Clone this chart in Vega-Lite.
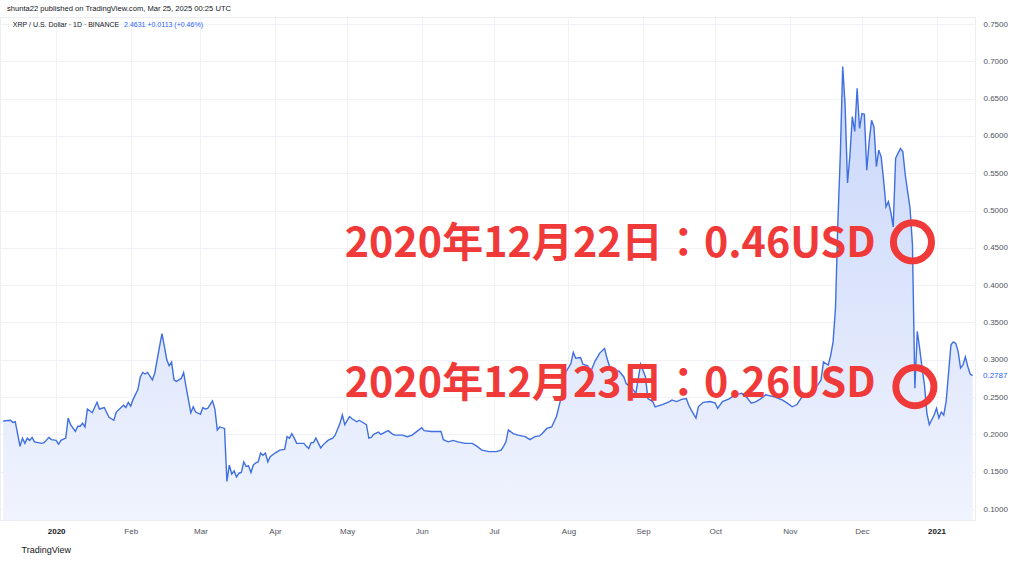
{
  "$schema": "https://vega.github.io/schema/vega-lite/v6.json",
  "autosize": "none",
  "width": 975,
  "height": 503,
  "padding": {"left": 0, "top": 17, "right": 49, "bottom": 41},
  "background": "white",
  "config": {
    "view": {"stroke": "#eceef3"},
    "font": "Liberation Sans"
  },
  "title": {
    "text": "shunta22 published on TradingView.com, Mar 25, 2025 00:25 UTC",
    "anchor": "start",
    "dx": 7,
    "offset": 4,
    "fontSize": 7.6,
    "fontWeight": "normal",
    "color": "#131722",
    "font": "Liberation Sans"
  },
  "datasets": {
    "series": [
      {"d": "2019-12-10", "v": 0.218}, {"d": "2019-12-13", "v": 0.219}, {"d": "2019-12-14", "v": 0.216}, {"d": "2019-12-15", "v": 0.217},
      {"d": "2019-12-17", "v": 0.184}, {"d": "2019-12-18", "v": 0.195}, {"d": "2019-12-19", "v": 0.188}, {"d": "2019-12-20", "v": 0.195},
      {"d": "2019-12-21", "v": 0.192}, {"d": "2019-12-22", "v": 0.196}, {"d": "2019-12-23", "v": 0.190}, {"d": "2019-12-26", "v": 0.188},
      {"d": "2019-12-27", "v": 0.189}, {"d": "2019-12-29", "v": 0.196}, {"d": "2019-12-30", "v": 0.193}, {"d": "2020-01-01", "v": 0.192},
      {"d": "2020-01-02", "v": 0.187}, {"d": "2020-01-03", "v": 0.192}, {"d": "2020-01-05", "v": 0.195}, {"d": "2020-01-06", "v": 0.222},
      {"d": "2020-01-07", "v": 0.213}, {"d": "2020-01-09", "v": 0.204}, {"d": "2020-01-10", "v": 0.211}, {"d": "2020-01-11", "v": 0.211},
      {"d": "2020-01-12", "v": 0.215}, {"d": "2020-01-13", "v": 0.210}, {"d": "2020-01-14", "v": 0.234}, {"d": "2020-01-16", "v": 0.229},
      {"d": "2020-01-18", "v": 0.243}, {"d": "2020-01-19", "v": 0.234}, {"d": "2020-01-21", "v": 0.236}, {"d": "2020-01-23", "v": 0.223},
      {"d": "2020-01-25", "v": 0.219}, {"d": "2020-01-26", "v": 0.230}, {"d": "2020-01-28", "v": 0.236}, {"d": "2020-01-29", "v": 0.239},
      {"d": "2020-01-30", "v": 0.236}, {"d": "2020-01-31", "v": 0.243}, {"d": "2020-02-01", "v": 0.238}, {"d": "2020-02-02", "v": 0.247},
      {"d": "2020-02-04", "v": 0.260}, {"d": "2020-02-05", "v": 0.277}, {"d": "2020-02-06", "v": 0.283}, {"d": "2020-02-07", "v": 0.281},
      {"d": "2020-02-08", "v": 0.283}, {"d": "2020-02-10", "v": 0.273}, {"d": "2020-02-11", "v": 0.282}, {"d": "2020-02-13", "v": 0.318},
      {"d": "2020-02-14", "v": 0.335}, {"d": "2020-02-15", "v": 0.318}, {"d": "2020-02-16", "v": 0.300}, {"d": "2020-02-17", "v": 0.292},
      {"d": "2020-02-18", "v": 0.297}, {"d": "2020-02-19", "v": 0.273}, {"d": "2020-02-20", "v": 0.271}, {"d": "2020-02-22", "v": 0.275},
      {"d": "2020-02-23", "v": 0.283}, {"d": "2020-02-24", "v": 0.264}, {"d": "2020-02-26", "v": 0.229}, {"d": "2020-02-27", "v": 0.237},
      {"d": "2020-02-28", "v": 0.230}, {"d": "2020-03-01", "v": 0.227}, {"d": "2020-03-02", "v": 0.236}, {"d": "2020-03-03", "v": 0.234},
      {"d": "2020-03-04", "v": 0.235}, {"d": "2020-03-06", "v": 0.245}, {"d": "2020-03-07", "v": 0.234}, {"d": "2020-03-08", "v": 0.206},
      {"d": "2020-03-09", "v": 0.210}, {"d": "2020-03-11", "v": 0.208}, {"d": "2020-03-12", "v": 0.137}, {"d": "2020-03-13", "v": 0.159},
      {"d": "2020-03-14", "v": 0.147}, {"d": "2020-03-15", "v": 0.151}, {"d": "2020-03-16", "v": 0.143}, {"d": "2020-03-17", "v": 0.148},
      {"d": "2020-03-18", "v": 0.149}, {"d": "2020-03-19", "v": 0.163}, {"d": "2020-03-20", "v": 0.157}, {"d": "2020-03-21", "v": 0.158},
      {"d": "2020-03-22", "v": 0.149}, {"d": "2020-03-23", "v": 0.159}, {"d": "2020-03-24", "v": 0.162}, {"d": "2020-03-25", "v": 0.163},
      {"d": "2020-03-26", "v": 0.175}, {"d": "2020-03-27", "v": 0.172}, {"d": "2020-03-28", "v": 0.175}, {"d": "2020-03-29", "v": 0.163},
      {"d": "2020-03-30", "v": 0.170}, {"d": "2020-04-01", "v": 0.175}, {"d": "2020-04-03", "v": 0.179}, {"d": "2020-04-05", "v": 0.180},
      {"d": "2020-04-06", "v": 0.197}, {"d": "2020-04-07", "v": 0.195}, {"d": "2020-04-08", "v": 0.201}, {"d": "2020-04-09", "v": 0.195},
      {"d": "2020-04-10", "v": 0.188}, {"d": "2020-04-13", "v": 0.188}, {"d": "2020-04-14", "v": 0.184}, {"d": "2020-04-15", "v": 0.181},
      {"d": "2020-04-16", "v": 0.189}, {"d": "2020-04-17", "v": 0.189}, {"d": "2020-04-18", "v": 0.195}, {"d": "2020-04-20", "v": 0.182},
      {"d": "2020-04-21", "v": 0.186}, {"d": "2020-04-23", "v": 0.192}, {"d": "2020-04-25", "v": 0.195}, {"d": "2020-04-26", "v": 0.199},
      {"d": "2020-04-28", "v": 0.215}, {"d": "2020-04-29", "v": 0.226}, {"d": "2020-04-30", "v": 0.213}, {"d": "2020-05-02", "v": 0.224},
      {"d": "2020-05-03", "v": 0.221}, {"d": "2020-05-05", "v": 0.217}, {"d": "2020-05-06", "v": 0.219}, {"d": "2020-05-07", "v": 0.217},
      {"d": "2020-05-09", "v": 0.213}, {"d": "2020-05-10", "v": 0.195}, {"d": "2020-05-11", "v": 0.196}, {"d": "2020-05-12", "v": 0.200},
      {"d": "2020-05-14", "v": 0.203}, {"d": "2020-05-15", "v": 0.200}, {"d": "2020-05-18", "v": 0.205}, {"d": "2020-05-20", "v": 0.200},
      {"d": "2020-05-21", "v": 0.199}, {"d": "2020-05-24", "v": 0.199}, {"d": "2020-05-26", "v": 0.197}, {"d": "2020-05-28", "v": 0.199},
      {"d": "2020-05-30", "v": 0.204}, {"d": "2020-06-01", "v": 0.209}, {"d": "2020-06-02", "v": 0.205}, {"d": "2020-06-05", "v": 0.204},
      {"d": "2020-06-09", "v": 0.204}, {"d": "2020-06-10", "v": 0.193}, {"d": "2020-06-12", "v": 0.190}, {"d": "2020-06-14", "v": 0.192},
      {"d": "2020-06-16", "v": 0.190}, {"d": "2020-06-19", "v": 0.188}, {"d": "2020-06-22", "v": 0.188}, {"d": "2020-06-24", "v": 0.184},
      {"d": "2020-06-26", "v": 0.179}, {"d": "2020-06-29", "v": 0.177}, {"d": "2020-07-02", "v": 0.177}, {"d": "2020-07-04", "v": 0.179},
      {"d": "2020-07-05", "v": 0.184}, {"d": "2020-07-06", "v": 0.190}, {"d": "2020-07-07", "v": 0.206}, {"d": "2020-07-09", "v": 0.201},
      {"d": "2020-07-11", "v": 0.199}, {"d": "2020-07-14", "v": 0.197}, {"d": "2020-07-16", "v": 0.193}, {"d": "2020-07-18", "v": 0.197},
      {"d": "2020-07-20", "v": 0.198}, {"d": "2020-07-21", "v": 0.201}, {"d": "2020-07-23", "v": 0.208}, {"d": "2020-07-25", "v": 0.210},
      {"d": "2020-07-27", "v": 0.224}, {"d": "2020-07-28", "v": 0.237}, {"d": "2020-07-29", "v": 0.250}, {"d": "2020-07-31", "v": 0.284},
      {"d": "2020-08-02", "v": 0.295}, {"d": "2020-08-03", "v": 0.310}, {"d": "2020-08-04", "v": 0.302}, {"d": "2020-08-06", "v": 0.303},
      {"d": "2020-08-07", "v": 0.294}, {"d": "2020-08-09", "v": 0.292}, {"d": "2020-08-10", "v": 0.282}, {"d": "2020-08-12", "v": 0.298},
      {"d": "2020-08-14", "v": 0.309}, {"d": "2020-08-16", "v": 0.315}, {"d": "2020-08-17", "v": 0.302}, {"d": "2020-08-18", "v": 0.292},
      {"d": "2020-08-20", "v": 0.285}, {"d": "2020-08-22", "v": 0.285}, {"d": "2020-08-24", "v": 0.277}, {"d": "2020-08-25", "v": 0.268},
      {"d": "2020-08-27", "v": 0.264}, {"d": "2020-08-29", "v": 0.255}, {"d": "2020-08-31", "v": 0.294}, {"d": "2020-09-02", "v": 0.277},
      {"d": "2020-09-03", "v": 0.248}, {"d": "2020-09-05", "v": 0.244}, {"d": "2020-09-06", "v": 0.237}, {"d": "2020-09-09", "v": 0.240},
      {"d": "2020-09-12", "v": 0.244}, {"d": "2020-09-13", "v": 0.246}, {"d": "2020-09-15", "v": 0.244}, {"d": "2020-09-17", "v": 0.247},
      {"d": "2020-09-19", "v": 0.248}, {"d": "2020-09-20", "v": 0.239}, {"d": "2020-09-21", "v": 0.233}, {"d": "2020-09-23", "v": 0.222},
      {"d": "2020-09-24", "v": 0.237}, {"d": "2020-09-26", "v": 0.243}, {"d": "2020-09-29", "v": 0.244}, {"d": "2020-10-01", "v": 0.242},
      {"d": "2020-10-02", "v": 0.235}, {"d": "2020-10-04", "v": 0.244}, {"d": "2020-10-07", "v": 0.248}, {"d": "2020-10-09", "v": 0.253},
      {"d": "2020-10-12", "v": 0.255}, {"d": "2020-10-14", "v": 0.250}, {"d": "2020-10-16", "v": 0.242}, {"d": "2020-10-18", "v": 0.244},
      {"d": "2020-10-20", "v": 0.248}, {"d": "2020-10-22", "v": 0.253}, {"d": "2020-10-26", "v": 0.250}, {"d": "2020-10-29", "v": 0.246},
      {"d": "2020-10-31", "v": 0.242}, {"d": "2020-11-02", "v": 0.237}, {"d": "2020-11-04", "v": 0.240}, {"d": "2020-11-06", "v": 0.250},
      {"d": "2020-11-09", "v": 0.255}, {"d": "2020-11-11", "v": 0.259}, {"d": "2020-11-13", "v": 0.268}, {"d": "2020-11-14", "v": 0.273},
      {"d": "2020-11-15", "v": 0.297}, {"d": "2020-11-17", "v": 0.293}, {"d": "2020-11-18", "v": 0.306}, {"d": "2020-11-19", "v": 0.324},
      {"d": "2020-11-20", "v": 0.369}, {"d": "2020-11-21", "v": 0.485}, {"d": "2020-11-22", "v": 0.574}, {"d": "2020-11-23", "v": 0.693},
      {"d": "2020-11-24", "v": 0.641}, {"d": "2020-11-25", "v": 0.537}, {"d": "2020-11-26", "v": 0.574}, {"d": "2020-11-27", "v": 0.626},
      {"d": "2020-11-28", "v": 0.606}, {"d": "2020-11-29", "v": 0.664}, {"d": "2020-11-30", "v": 0.610}, {"d": "2020-12-01", "v": 0.630},
      {"d": "2020-12-02", "v": 0.629}, {"d": "2020-12-03", "v": 0.554}, {"d": "2020-12-04", "v": 0.592}, {"d": "2020-12-05", "v": 0.621},
      {"d": "2020-12-06", "v": 0.612}, {"d": "2020-12-07", "v": 0.559}, {"d": "2020-12-08", "v": 0.581}, {"d": "2020-12-09", "v": 0.572},
      {"d": "2020-12-10", "v": 0.541}, {"d": "2020-12-11", "v": 0.505}, {"d": "2020-12-12", "v": 0.512}, {"d": "2020-12-13", "v": 0.498},
      {"d": "2020-12-14", "v": 0.478}, {"d": "2020-12-15", "v": 0.570}, {"d": "2020-12-16", "v": 0.577}, {"d": "2020-12-17", "v": 0.583},
      {"d": "2020-12-18", "v": 0.579}, {"d": "2020-12-19", "v": 0.548}, {"d": "2020-12-21", "v": 0.503}, {"d": "2020-12-22", "v": 0.454},
      {"d": "2020-12-23", "v": 0.262}, {"d": "2020-12-24", "v": 0.338}, {"d": "2020-12-25", "v": 0.315}, {"d": "2020-12-26", "v": 0.289},
      {"d": "2020-12-27", "v": 0.266}, {"d": "2020-12-28", "v": 0.228}, {"d": "2020-12-29", "v": 0.213}, {"d": "2020-12-31", "v": 0.226},
      {"d": "2021-01-01", "v": 0.235}, {"d": "2021-01-02", "v": 0.222}, {"d": "2021-01-03", "v": 0.230}, {"d": "2021-01-04", "v": 0.226},
      {"d": "2021-01-05", "v": 0.244}, {"d": "2021-01-07", "v": 0.320}, {"d": "2021-01-08", "v": 0.324}, {"d": "2021-01-09", "v": 0.322},
      {"d": "2021-01-10", "v": 0.311}, {"d": "2021-01-11", "v": 0.289}, {"d": "2021-01-12", "v": 0.293}, {"d": "2021-01-13", "v": 0.304},
      {"d": "2021-01-14", "v": 0.291}, {"d": "2021-01-15", "v": 0.281}, {"d": "2021-01-16", "v": 0.2787}
    ],
    "notes": [
      {"d": "2020-04-30", "v": 0.454, "label": "2020年12月22日：0.46USD"},
      {"d": "2020-04-30", "v": 0.266, "label": "2020年12月23日：0.26USD"}
    ],
    "rings": [
      {"d": "2020-12-22", "v": 0.458},
      {"d": "2020-12-23", "v": 0.264}
    ],
    "symbolLine": [
      {"d": "2019-12-14", "v": 0.7487, "label": "XRP / U.S. Dollar · 1D · BINANCE"}
    ],
    "quote": [
      {"d": "2020-01-29T06:00:00Z", "v": 0.7487, "label": "2.4631  +0.0113 (+0.46%)"}
    ],
    "last": [
      {"d": "2021-01-17", "v": 0.2787, "label": "0.2787"}
    ]
  },
  "layer": [
    {
      "data": {"name": "series"},
      "mark": {
        "type": "area",
        "clip": true,
        "color": {
          "gradient": "linear",
          "x1": 0, "y1": 0, "x2": 0, "y2": 1,
          "stops": [
            {"offset": 0, "color": "#c8d6fa"},
            {"offset": 1, "color": "#f6f8fe"}
          ]
        }
      },
      "encoding": {
        "x": {
          "field": "d",
          "type": "temporal",
          "scale": {
            "type": "utc",
            "domain": [
              {"year": 2019, "month": 12, "date": 8, "hours": 16, "utc": true},
              {"year": 2021, "month": 1, "date": 17, "utc": true}
            ]
          },
          "axis": {
            "title": "TradingView",
            "titleX": 21,
            "titleY": 29,
            "titleAlign": "left",
            "titleAnchor": "start",
            "titleBaseline": "middle",
            "titleFontSize": 9,
            "titleFontWeight": "normal",
            "titleColor": "#131722",
            "titleFont": "Liberation Sans",
            "tickCount": 30,
            "values": [
              {"year": 2020, "month": 1, "date": 1, "utc": true},
              {"year": 2020, "month": 2, "date": 1, "utc": true},
              {"year": 2020, "month": 3, "date": 1, "utc": true},
              {"year": 2020, "month": 4, "date": 1, "utc": true},
              {"year": 2020, "month": 5, "date": 1, "utc": true},
              {"year": 2020, "month": 6, "date": 1, "utc": true},
              {"year": 2020, "month": 7, "date": 1, "utc": true},
              {"year": 2020, "month": 8, "date": 1, "utc": true},
              {"year": 2020, "month": 9, "date": 1, "utc": true},
              {"year": 2020, "month": 10, "date": 1, "utc": true},
              {"year": 2020, "month": 11, "date": 1, "utc": true},
              {"year": 2020, "month": 12, "date": 1, "utc": true},
              {"year": 2021, "month": 1, "date": 1, "utc": true}
            ],
            "labelExpr": "utcFormat(datum.value, '%m') == '01' ? utcFormat(datum.value, '%Y') : utcFormat(datum.value, '%b')",
            "labelFontWeight": {"condition": {"test": "utcFormat(datum.value, '%m') == '01'", "value": "bold"}, "value": "normal"},
            "labelColor": {"condition": {"test": "utcFormat(datum.value, '%m') == '01'", "value": "#131722"}, "value": "#50535e"},
            "labelFontSize": 8,
            "labelFont": "Liberation Sans",
            "labelPadding": 7,
            "labelOverlap": false,
            "domain": false,
            "ticks": false,
            "grid": true,
            "gridColor": "#f0f2f7",
            "labelFlush": false
          }
        },
        "y": {
          "field": "v",
          "type": "quantitative",
          "scale": {"domain": [0.0853, 0.7594], "nice": false, "zero": false},
          "axis": {
            "orient": "right",
            "title": null,
            "tickCount": 30,
            "values": [0.1, 0.15, 0.2, 0.25, 0.3, 0.35, 0.4, 0.45, 0.5, 0.55, 0.6, 0.65, 0.7, 0.75],
            "format": ".4f",
            "labelFontSize": 8,
            "labelFont": "Liberation Sans",
            "labelColor": "#50535e",
            "labelPadding": 8,
            "labelOverlap": false,
            "labelBound": false,
            "domain": false,
            "ticks": false,
            "grid": true,
            "gridColor": "#f0f2f7"
          }
        }
      }
    },
    {
      "data": {"name": "series"},
      "mark": {"type": "line", "clip": true, "color": "#3f6fe0", "strokeWidth": 1.4},
      "encoding": {
        "x": {"field": "d", "type": "temporal"},
        "y": {"field": "v", "type": "quantitative"}
      }
    },
    {
      "data": {"name": "notes"},
      "mark": {
        "type": "text",
        "align": "left",
        "baseline": "middle",
        "font": "Noto Sans CJK JP",
        "fontWeight": "bold",
        "fontSize": 41.2,
        "color": "#f03a3a"
      },
      "encoding": {
        "x": {"field": "d", "type": "temporal"},
        "y": {"field": "v", "type": "quantitative"},
        "text": {"field": "label"}
      }
    },
    {
      "data": {"name": "rings"},
      "mark": {
        "type": "point",
        "shape": "circle",
        "filled": false,
        "size": 1450,
        "stroke": "#f03a3a",
        "strokeWidth": 7,
        "opacity": 1
      },
      "encoding": {
        "x": {"field": "d", "type": "temporal"},
        "y": {"field": "v", "type": "quantitative"}
      }
    },
    {
      "data": {"name": "symbolLine"},
      "mark": {"type": "text", "align": "left", "baseline": "middle", "fontSize": 7, "color": "#131722", "font": "Liberation Sans"},
      "encoding": {
        "x": {"field": "d", "type": "temporal"},
        "y": {"field": "v", "type": "quantitative"},
        "text": {"field": "label"}
      }
    },
    {
      "data": {"name": "quote"},
      "mark": {"type": "text", "align": "left", "baseline": "middle", "fontSize": 7, "color": "#2962ff", "font": "Liberation Sans"},
      "encoding": {
        "x": {"field": "d", "type": "temporal"},
        "y": {"field": "v", "type": "quantitative"},
        "text": {"field": "label"}
      }
    },
    {
      "data": {"name": "last"},
      "mark": {"type": "text", "align": "left", "baseline": "middle", "dx": 8, "fontSize": 8, "color": "#2962ff", "font": "Liberation Sans"},
      "encoding": {
        "x": {"field": "d", "type": "temporal"},
        "y": {"field": "v", "type": "quantitative"},
        "text": {"field": "label"}
      }
    }
  ]
}
